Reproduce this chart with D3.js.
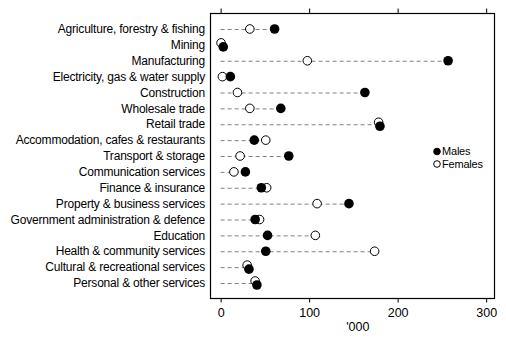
<!DOCTYPE html>
<html>
<head>
<meta charset="utf-8">
<script src="https://cdn.jsdelivr.net/npm/d3@7"></script>
<style>
body { margin: 0; background: #fff; }
text { font-family: "Liberation Sans", Arial, sans-serif; fill: #000; }
</style>
</head>
<body>
<div id="chart"></div>
<script>
// Employed persons by industry, '000
var industries = [
	"Agriculture, forestry & fishing",
	"Mining",
	"Manufacturing",
	"Electricity, gas & water supply",
	"Construction",
	"Wholesale trade",
	"Retail trade",
	"Accommodation, cafes & restaurants",
	"Transport & storage",
	"Communication services",
	"Finance & insurance",
	"Property & business services",
	"Government administration & defence",
	"Education",
	"Health & community services",
	"Cultural & recreational services",
	"Personal & other services"
];
var males   = [61, 3, 257, 11, 163, 68, 180, 38, 77, 28, 46, 145, 39, 53, 51, 32, 41];
var females = [33, 0.5, 98, 2, 19, 33, 178.5, 51, 22, 15, 52, 109, 44, 107, 174, 30, 39];
var xTicks = [0, 100, 200, 300];
var legendLabels = ["Males", "Females"];

var W = 506, H = 338;
var pLeft = 210, pRight = 495, pTop = 13, pBottom = 298;

var svg = d3.select("#chart")
			.append("svg")
			.attr("width", W)
			.attr("height", H);

var x = d3.scaleLinear()
			.domain([-12, 310])
			.range([pLeft, pRight]);

var y = d3.scalePoint()
			.domain(industries)
			.range([29, 283]);

var rows = industries.map(function(d, i){
	return {name: d, m: males[i], f: females[i]};
});

// frame
svg.append("rect")
	.attr("x", pLeft + 0.5)
	.attr("y", pTop + 0.5)
	.attr("width", pRight - pLeft - 1)
	.attr("height", pBottom - pTop)
	.attr("fill", "none")
	.attr("stroke", "#000")
	.attr("stroke-width", 1.2);

// bottom axis
var xAxis = d3.axisBottom(x)
			.tickValues(xTicks)
			.tickSize(4)
			.tickSizeOuter(0);
var gx = svg.append("g")
			.attr("transform", "translate(0," + (pBottom + 0.5) + ")")
			.call(xAxis);
gx.select(".domain").remove();
gx.selectAll("text")
	.attr("font-family", "Liberation Sans, Arial, sans-serif")
	.attr("font-size", 12.5)
	.attr("dy", "0.9em");

// top ticks
var gt = svg.append("g")
			.attr("transform", "translate(0," + (pTop + 0.5) + ")")
			.call(d3.axisTop(x).tickValues(xTicks).tickSize(5).tickFormat(""));
gt.select(".domain").remove();

// category labels
svg.selectAll(".lab")
	.data(rows)
	.enter()
	.append("text")
	.attr("class", "lab")
	.attr("x", 205)
	.attr("y", function(d){ return y(d.name); })
	.attr("dy", "0.35em")
	.attr("text-anchor", "end")
	.attr("font-size", 12)
	.attr("letter-spacing", "-0.2px")
	.text(function(d){ return d.name; });

// dashed guides
svg.selectAll(".guide")
	.data(rows)
	.enter()
	.append("line")
	.attr("x1", x(0))
	.attr("x2", function(d){ return x(Math.max(d.m, d.f)); })
	.attr("y1", function(d){ return y(d.name) + 0.5; })
	.attr("y2", function(d){ return y(d.name) + 0.5; })
	.attr("stroke", "#808080")
	.attr("stroke-width", 1)
	.attr("stroke-dasharray", "4,3");

function shift(d){
	return Math.abs(d.m - d.f) < 3 ? 2 : 0;
}

svg.selectAll(".fem")
	.data(rows)
	.enter()
	.append("circle")
	.attr("cx", function(d){ return x(d.f); })
	.attr("cy", function(d){ return y(d.name) - shift(d); })
	.attr("r", 4.3)
	.attr("fill", "#fff")
	.attr("stroke", "#000")
	.attr("stroke-width", 1);

svg.selectAll(".mal")
	.data(rows)
	.enter()
	.append("circle")
	.attr("cx", function(d){ return x(d.m); })
	.attr("cy", function(d){ return y(d.name) + shift(d); })
	.attr("r", 4.8)
	.attr("fill", "#000");

// legend
var leg = svg.selectAll(".leg")
			.data(legendLabels)
			.enter()
			.append("g")
			.attr("transform", function(d, i){
				return "translate(437," + (151.5 + i * 12.5) + ")";
			});
leg.append("circle")
	.attr("r", 3.3)
	.attr("fill", function(d, i){ return i == 0 ? "#000" : "#fff"; })
	.attr("stroke", "#000")
	.attr("stroke-width", 1);
leg.append("text")
	.attr("x", 5)
	.attr("dy", "0.35em")
	.attr("font-size", 11)
	.attr("letter-spacing", "-0.2px")
	.text(function(d){ return d; });

// axis title
svg.append("text")
	.attr("x", x(155))
	.attr("y", 331)
	.attr("text-anchor", "middle")
	.attr("font-size", 12.5)
	.text("'000");
</script>
</body>
</html>
